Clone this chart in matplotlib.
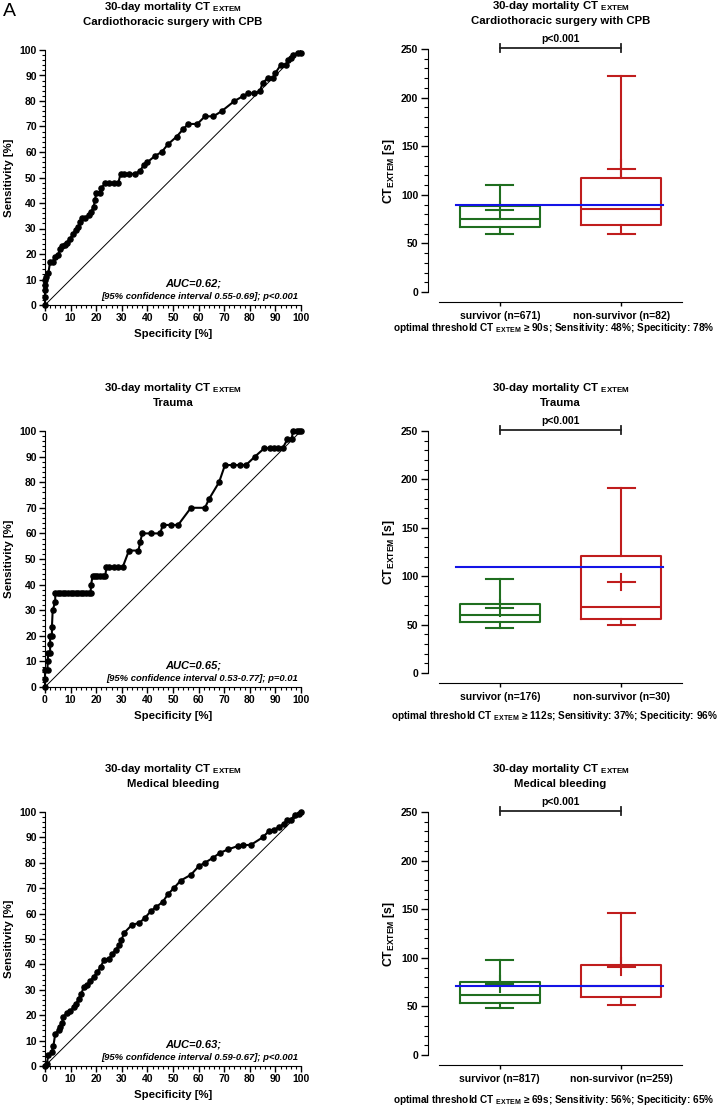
import matplotlib
matplotlib.use("Agg")
import matplotlib.pyplot as plt
import numpy as np
from matplotlib.ticker import MultipleLocator

plt.rcParams['font.family'] = ['Liberation Sans', 'DejaVu Sans']
plt.rcParams['mathtext.fontset'] = 'custom'
plt.rcParams['mathtext.rm'] = 'Liberation Sans'
plt.rcParams['mathtext.bf'] = 'Liberation Sans:bold'
plt.rcParams['mathtext.it'] = 'Liberation Sans:italic'
plt.rcParams['mathtext.default'] = 'bf'

# ROC curves (specificity %, sensitivity %) as drawn in the reference
roc_cpb = [(0, 0), (0, 3), (0, 6), (0, 8), (0, 10), (0.4, 11), (1.3, 12.4), (2, 17), (3, 17), (4, 19),
           (5, 19.6), (6, 22), (6.5, 23), (7.8, 23.5), (8.5, 24.5), (9.8, 26), (11, 28), (12, 29.5),
           (13, 30.7), (13.7, 32.7), (14.3, 34), (15.6, 34), (17, 35.3), (18, 36.6), (19, 38.6),
           (19.5, 41), (20, 44), (21.5, 44), (22, 45.8), (23.4, 47.7), (25, 47.7), (27, 47.7),
           (28.6, 47.7), (29.5, 51.4), (31, 51.4), (33, 51.4), (35, 51.4), (37, 52.5), (38.7, 55),
           (40, 56), (43, 58.5), (45.6, 60), (48, 63), (51.4, 66), (54, 69), (56, 71), (59.5, 71),
           (62.5, 74), (65.8, 74), (69, 76), (74, 80), (77.5, 82), (79.4, 83), (81.6, 83), (84, 84),
           (85, 87), (87, 89), (89, 89), (90, 91), (92, 94), (94, 94), (95, 96), (96, 97), (97, 98),
           (98.7, 99), (100, 99)]
roc_trauma = [(0, 0), (0, 3.3), (0, 6.7), (1, 6.7), (1, 10), (1.3, 13.3), (2, 13.3), (2, 16.7), (2, 20),
              (2.7, 20), (2.7, 23.3), (3, 30), (4, 33.3), (4, 36.7), (5, 36.7), (6, 36.7), (7, 36.7),
              (8, 36.7), (9, 36.7), (10, 36.7), (11, 36.7), (12, 36.7), (13, 36.7), (14, 36.7),
              (15, 36.7), (16, 36.7), (17, 36.7), (17.8, 36.7), (18, 40), (18.6, 43.3), (19.5, 43.3),
              (20.5, 43.3), (21.5, 43.3), (22.5, 43.3), (23.5, 43.3), (24, 46.7), (25, 46.7),
              (27, 46.7), (28.5, 46.7), (30.3, 46.7), (32.8, 53.3), (36.5, 53.3), (37.2, 56.7),
              (38, 60), (41.5, 60), (45, 60), (46, 63.3), (49.3, 63.3), (52, 63.3), (57, 70),
              (62.5, 70), (64, 73.3), (68, 80), (70.3, 86.7), (73.5, 86.7), (76, 86.7), (78.5, 86.7),
              (82, 90), (85.7, 93.3), (88, 93.3), (89.5, 93.3), (91, 93.3), (92.8, 93.3), (94.7, 96.7),
              (96.4, 96.7), (96.8, 100), (98.5, 100), (99.3, 100), (100, 100)]
roc_medical = [(0, 0), (0.7, 0.9), (1.3, 4.2), (2.6, 5.5), (3.3, 8), (4, 12.7), (5.3, 14), (6, 15.3),
               (6.6, 17), (7.2, 19.3), (8.5, 20.9), (9.9, 21.5), (11.2, 23.2), (12.2, 24.5), (13.1, 26.5),
               (14.2, 28.5), (15.1, 31), (16.4, 31.8), (17.7, 33.5), (19, 35), (20.4, 37), (21.7, 39),
               (23, 41.6), (25, 42.3), (26.3, 44), (27.6, 45.8), (28.9, 47.5), (29.8, 49.5), (31, 52.5),
               (34, 55.6), (36.8, 56.3), (39, 58.3), (41.4, 61), (43.4, 62.6), (46, 64.6), (48, 67.6),
               (50.3, 70), (53, 73), (57, 75.3), (60, 78.6), (62.4, 80), (65.7, 82), (68.3, 83.9),
               (71.6, 85.3), (75.3, 86.6), (77.5, 86.9), (80.5, 87.1), (85, 90), (87.4, 92.4),
               (89.4, 93), (91.3, 94), (93.3, 95.4), (94.6, 96.7), (96, 97), (97.5, 98.7),
               (99.2, 99.3), (100, 100)]

groups = ["Cardiothoracic surgery with CPB", "Trauma", "Medical bleeding"]
auc_text = ["AUC=0.62;", "AUC=0.65;", "AUC=0.63;"]
ci_text = ["[95% confidence interval 0.55-0.69]; p<0.001",
           "[95% confidence interval 0.53-0.77]; p=0.01",
           "[95% confidence interval 0.59-0.67]; p<0.001"]

# box stats: whisker low, q1, median, q3, whisker high
surv_stats = [[60, 67, 75, 88, 110], [47, 53, 60, 71, 97], [48, 54, 62, 75, 98]]
nonsurv_stats = [[60, 69, 85, 117, 222], [50, 56, 68, 121, 191], [51, 60, 71, 93, 146]]
surv_mean = [84, 67, 73]
nonsurv_mean = [127, 94, 91]
surv_n = [671, 176, 817]
nonsurv_n = [82, 30, 259]
threshold = [90, 110, 71]
thr_label = ["90s", "112s", "69s"]
sens_label = ["48%", "37%", "56%"]
spec_label = ["78%", "96%", "65%"]

W, H = 720, 1106
fig = plt.figure(figsize=(W / 100, H / 100), dpi=100)

roc_rows = [(50, 305), (431, 687), (812, 1066)]
box_rows = [(49, 292), (431, 673), (812, 1055)]
thr_y = [328, 716, 1100]
rocs = [roc_cpb, roc_trauma, roc_medical]

green = '#1f6e1f'
red = '#c01d1d'
blue = '#1414e6'


def title(ax, name):
    ax.annotate(r"30-day mortality CT$\ _{EXTEM}$", xy=(0.5, 1), xycoords='axes fraction',
                xytext=(0, 43), textcoords='offset pixels', ha='center', va='center',
                fontsize=8.2, fontweight='bold')
    ax.annotate(name, xy=(0.5, 1), xycoords='axes fraction', xytext=(0, 28),
                textcoords='offset pixels', ha='center', va='center',
                fontsize=8.2, fontweight='bold')


for i in range(3):
    # ROC panel
    top, bot = roc_rows[i]
    ax = fig.add_axes([45 / W, 1 - bot / H, 256 / W, (bot - top) / H])
    pts = np.array(rocs[i])
    ax.plot([0, 100], [0, 100], color='black', lw=0.7)
    ax.plot(pts[:, 0], pts[:, 1], color='black', lw=1.5, marker='o', ms=3.7, clip_on=False, zorder=3)
    ax.set_xlim(0, 100)
    ax.set_ylim(0, 100)
    ax.xaxis.set_major_locator(MultipleLocator(10))
    ax.yaxis.set_major_locator(MultipleLocator(10))
    ax.xaxis.set_minor_locator(MultipleLocator(2))
    ax.yaxis.set_minor_locator(MultipleLocator(2))
    ax.spines['top'].set_visible(False)
    ax.spines['right'].set_visible(False)
    ax.tick_params(which='major', length=4, width=1, labelsize=7.5, pad=2)
    ax.tick_params(which='minor', length=2, width=0.8)
    for lab in ax.get_xticklabels() + ax.get_yticklabels():
        lab.set_fontweight('bold')
    ax.set_ylabel("Sensitivity [%]", fontsize=8.2, fontweight='bold', labelpad=4)
    ax.set_xlabel("Specificity [%]", fontsize=8.2, fontweight='bold', labelpad=4)
    ax.text(58, 8.3, auc_text[i], fontsize=8, fontweight='bold', style='italic',
            ha='center', va='center')
    ax.text(99, 3.3, ci_text[i], fontsize=6.8, fontweight='bold', style='italic',
            ha='right', va='center')
    title(ax, groups[i])

    # box panel
    top, bot = box_rows[i]
    bx = fig.add_axes([439 / W, 1 - bot / H, 243 / W, (bot - top) / H])
    bx.spines['top'].set_visible(False)
    bx.spines['right'].set_visible(False)
    bx.spines['left'].set_position(('outward', 8))
    bx.spines['bottom'].set_position(('outward', 7.5))
    stats = []
    for s, m in [(surv_stats[i], surv_mean[i]), (nonsurv_stats[i], nonsurv_mean[i])]:
        stats.append(dict(whislo=s[0], q1=s[1], med=s[2], q3=s[3], whishi=s[4], mean=m, fliers=[]))
    for k, (st, col) in enumerate(zip(stats, [green, red])):
        lw = 1.5
        bx.bxp([st], positions=[k], widths=0.66, capwidths=0.22, showfliers=False,
               boxprops=dict(color=col, lw=lw), whiskerprops=dict(color=col, lw=lw),
               capprops=dict(color=col, lw=lw), medianprops=dict(color=col, lw=lw),
               manage_ticks=False)
        bx.plot([k - 0.11, k + 0.11], [st['mean'], st['mean']], color=col, lw=lw)
        bx.plot([k, k], [st['mean'] - 8.5, st['mean'] + 8.5], color=col, lw=lw)
    bx.plot([-0.36, 1.34], [threshold[i], threshold[i]], color=blue, lw=1.5, zorder=4)
    bx.set_xlim(-0.5, 1.5)
    bx.set_ylim(0, 250)
    bx.yaxis.set_major_locator(MultipleLocator(50))
    bx.yaxis.set_minor_locator(MultipleLocator(10))
    bx.tick_params(axis='y', which='major', length=5, width=1, labelsize=7.5, pad=2)
    bx.tick_params(axis='y', which='minor', length=3, width=0.8)
    bx.tick_params(axis='x', length=3, width=1, pad=3, labelsize=7.5)
    bx.set_xticks([0, 1])
    bx.set_xticklabels([f"survivor (n={surv_n[i]})", f"non-survivor (n={nonsurv_n[i]})"],
                       fontweight='bold')
    for lab in bx.get_yticklabels():
        lab.set_fontweight('bold')
    bx.set_ylabel(r"CT$_{EXTEM}$ [s]", fontsize=8.8, fontweight='bold', labelpad=3)
    # significance bracket
    bx.plot([0, 1], [251, 251], color='#222222', lw=1.3, clip_on=False)
    bx.plot([0, 0], [247, 255], color='#222222', lw=1.3, clip_on=False)
    bx.plot([1, 1], [247, 255], color='#222222', lw=1.3, clip_on=False)
    bx.text(0.5, 255, "p<0.001", fontsize=7.5, fontweight='bold', ha='center', va='bottom')
    title(bx, groups[i])

    fig.text(554 / W, 1 - thr_y[i] / H,
             r"optimal threshold CT$\ _{EXTEM}$ ≥ " + thr_label[i] + "; Sensitivity: " + sens_label[i]
             + "; Speciticity: " + spec_label[i],
             fontsize=7.2, fontweight='bold', ha='center', va='center')

fig.text(3 / W, 1 - 12 / H, "A", fontsize=14, ha='left', va='center')

fig.savefig("out.png", dpi=100)
